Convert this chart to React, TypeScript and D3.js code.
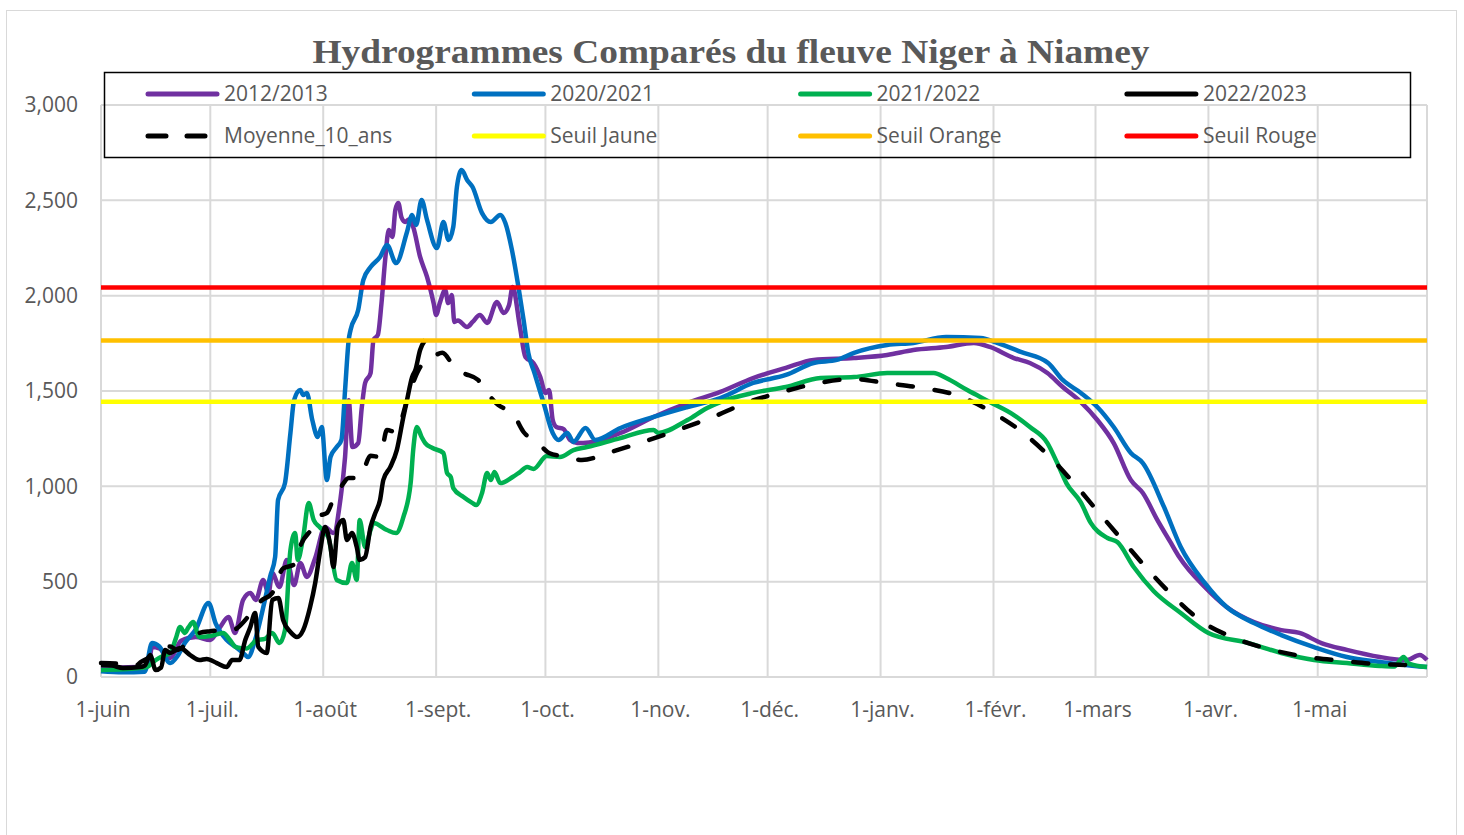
import React from 'react';
import * as d3 from 'd3';

// libellés de l'axe des abscisses (début de chaque mois)
const monthLabels = ['1-juin', '1-juil.', '1-août', '1-sept.', '1-oct.', '1-nov.', '1-déc.', '1-janv.', '1-févr.', '1-mars', '1-avr.', '1-mai'];
const yTicks = [0, 500, 1000, 1500, 2000, 2500, 3000];

// [jours depuis le 1er juin, débit m3/s]
const q2012: [number, number][] = [
  [0, 52], [5, 50], [10, 52], [13, 60], [14, 157], [16, 150], [19, 100], [22, 190], [26, 210], [30, 194],
  [32.7, 262], [35, 315], [36.8, 231], [39, 404], [41, 440], [42.5, 404], [44.5, 509], [46, 440], [47, 545],
  [49, 472], [51, 614], [53, 482], [54.7, 598], [56.5, 525], [58.8, 624], [61.5, 787], [63.8, 755], [65.7, 928],
  [67, 1154], [68, 1452], [69, 1206], [70.6, 1227], [71.6, 1416], [72.5, 1542], [74, 1594], [74.8, 1768],
  [76, 1794], [77, 1961], [78, 2187], [79, 2344], [80, 2308], [80.8, 2449], [81.6, 2486], [82.5, 2410],
  [83.5, 2386], [84.5, 2400], [85.7, 2360], [87.6, 2203], [89.5, 2098], [91.3, 1961], [92, 1899], [93, 1961],
  [94.5, 2030], [95.3, 1961], [96.3, 2004], [97, 1862], [98, 1870], [100.5, 1836], [102, 1862], [104, 1899],
  [106, 1857], [108.7, 1967], [110.5, 1909], [112, 1950], [113, 2045], [115, 1836], [116.5, 1678],
  [118.7, 1647], [120.6, 1573], [122, 1490], [123, 1505], [124, 1348], [125, 1311], [127, 1300],
  [128.8, 1243], [130.7, 1227], [134, 1230], [142.6, 1280], [151.7, 1364], [161, 1437], [170, 1495],
  [179, 1568], [188, 1621], [195.6, 1663], [206.7, 1673], [215.8, 1689], [223, 1715], [232, 1731],
  [239.6, 1752], [244, 1731], [250.6, 1673], [255, 1647], [259.8, 1594], [264, 1521], [269, 1442],
  [273.5, 1348], [278, 1227], [282.7, 1033], [286, 965], [290, 823], [293.7, 703], [296, 629], [303, 472],
  [309, 367], [316.5, 288], [324, 246], [329, 231], [335, 178], [342, 142], [351, 105], [358.5, 89],
  [362, 115], [364, 89],
];

const q2020: [number, number][] = [
  [0, 30], [6, 25], [12, 28], [14, 178], [16, 160], [19, 73], [21, 110], [23, 178], [26, 250], [29.5, 388],
  [31.5, 280], [34.5, 194], [37, 157], [39, 126], [40.4, 105], [42.3, 194], [45, 404], [46.4, 525],
  [47.8, 629], [48.6, 928], [50.5, 1017], [52, 1280], [53, 1452], [54.7, 1505], [55.5, 1479], [56.5, 1490],
  [58, 1348], [59.5, 1259], [60.6, 1311], [62, 1033], [63, 1154], [64.7, 1206], [66, 1243], [67, 1505],
  [68, 1768], [68.5, 1820], [70.6, 1925], [72, 2082], [74, 2150], [76.6, 2203], [78.5, 2266], [81, 2171],
  [84, 2334], [85.4, 2423], [86.5, 2371], [88, 2502], [89.5, 2397], [92.2, 2250], [94, 2386], [95.4, 2292],
  [96.7, 2360], [97.7, 2570], [99, 2659], [100.5, 2607], [102, 2570], [104.6, 2433], [107, 2386],
  [109.6, 2423], [111, 2381], [112.8, 2240], [114.6, 2045], [116, 1873], [117.3, 1700], [119, 1594],
  [121.5, 1437], [124, 1280], [125.6, 1243], [128, 1280], [129.7, 1233], [133, 1306], [135.7, 1243],
  [142.6, 1306], [151.7, 1364], [161, 1416], [170, 1463], [179, 1542], [188, 1584], [195.6, 1647],
  [202, 1663], [206.7, 1700], [215.8, 1741], [223, 1752], [232, 1783], [241.5, 1778], [246, 1752],
  [252.5, 1705], [260, 1647], [264, 1558], [269, 1490], [273.5, 1416], [278, 1311], [282.7, 1175],
  [286, 1122], [291.8, 892], [296.4, 682], [303, 493], [309, 367], [316.5, 283], [324, 220], [333, 157],
  [342, 105], [351, 79], [364, 52],
];

const q2021: [number, number][] = [
  [0, 37], [6, 40], [12.5, 52], [15, 89], [17, 110], [19, 126], [20.5, 200], [21.7, 262], [23, 231],
  [24, 260], [25.3, 288], [27, 210], [30, 215], [33.5, 231], [35.4, 194], [37, 157], [40, 150], [42.8, 194],
  [45, 200], [47, 231], [49, 178], [50.5, 246], [52, 666], [53.3, 755], [54, 614], [55.5, 734], [57, 912],
  [58.4, 823], [60, 787], [62.4, 734], [64.7, 509], [67.5, 493], [68.9, 598], [70.2, 509], [71, 823],
  [72.5, 682], [74, 771], [74.8, 808], [78.5, 771], [81, 755], [83, 839], [85, 1017], [85.7, 1190],
  [86.7, 1311], [88, 1259], [89, 1227], [91, 1201], [94, 1175], [95, 1070], [96, 1049], [96.7, 991],
  [99.5, 944], [102, 912], [103, 902], [104.6, 965], [106, 1070], [107, 1033], [108, 1075], [109.6, 1017],
  [113, 1049], [115, 1075], [117, 1101], [118.7, 1091], [122.4, 1159], [126, 1154], [129.7, 1190],
  [133.4, 1206], [142.6, 1253], [151.7, 1295], [153, 1280], [161, 1348], [166.4, 1411], [170, 1442],
  [179, 1490], [188, 1521], [197.5, 1568], [206.7, 1573], [215.8, 1594], [220, 1594], [228.6, 1594],
  [232, 1568], [237.8, 1505], [244, 1442], [250.6, 1374], [255, 1311], [259.8, 1227], [262.5, 1122],
  [265, 1017], [269, 915], [271.7, 808], [276.3, 729], [279, 708], [283.5, 577], [289, 450], [296.4, 336],
  [304, 231], [315, 178], [324, 126], [333, 89], [342, 73], [351, 58], [355, 55], [357.6, 105], [359, 70],
  [364, 52],
];

const q2022: [number, number][] = [
  [0, 63], [3, 60], [6, 47], [10.7, 52], [12, 60], [13.5, 115], [15, 37], [16.5, 50], [17.6, 142], [19, 126],
  [21.7, 152], [24.5, 115], [27, 89], [29, 95], [31.8, 73], [34.5, 52], [36, 89], [38, 89], [39.6, 194],
  [41, 262], [42.3, 336], [43.2, 157], [45.5, 126], [47, 404], [48.7, 414], [50, 299], [52, 236],
  [53.8, 210], [55.5, 246], [57.4, 367], [58.8, 493], [60.2, 666], [61.5, 787], [63, 682], [63.8, 577],
  [65, 787], [66.5, 823], [67.5, 719], [68.9, 755], [70.2, 682], [71, 614], [72.5, 629], [74, 787],
  [75.3, 860], [76.6, 928], [77.5, 1033], [79.4, 1101], [81.2, 1190], [83, 1364], [84, 1452], [85.4, 1573],
  [86.3, 1610], [87.6, 1715], [89, 1768],
];

const qMoyenne: [number, number][] = [
  [0, 73], [5, 70], [9.8, 63], [11, 79], [13.5, 105], [17, 152], [19, 160], [20.8, 142], [24.5, 194],
  [27, 231], [30, 240], [33.5, 246], [36, 246], [41, 330], [44, 400], [47, 440], [50, 570], [53, 590],
  [55, 700], [58, 780], [60, 845], [62, 860], [64, 944], [66, 1000], [68, 1044], [71, 1044], [74, 1160],
  [76.6, 1154], [78.5, 1295], [81, 1285], [84, 1450], [86, 1560], [88, 1636], [90, 1663], [93.7, 1700],
  [97, 1626], [99.5, 1594], [103.5, 1558], [106, 1490], [109, 1427], [113, 1384], [116, 1285], [120, 1227],
  [123, 1175], [128, 1154], [132, 1138], [140, 1180], [149.6, 1238], [159, 1300], [168, 1364], [177, 1437],
  [187, 1495], [197, 1542], [206.5, 1563], [216, 1540], [225.5, 1516], [235.5, 1474], [244.5, 1390],
  [252.5, 1290], [260.5, 1154], [267.5, 1007], [274, 860], [280.5, 715], [287.5, 561], [294, 430],
  [302, 294], [311, 205], [320.5, 147], [331, 105], [341, 84], [350, 68], [358, 63], [364, 55],
];

const seuilJaune = 1443;
const seuilOrange = 1765;
const seuilRouge = 2043;

const W = 1464;
const H = 835;
const plot = { left: 101, right: 1427, top: 105, bottom: 677 };
const textColor = '#595959';
const sans = '"Open Sans", "Noto Sans", sans-serif';

const start = new Date(2022, 5, 1);
const end = new Date(2023, 4, 31);
const dayToDate = (d: number) => new Date(start.getTime() + d * 86400000);

const x = d3.scaleTime().domain([start, end]).range([plot.left, plot.right]);
const y = d3.scaleLinear().domain([0, 3000]).range([plot.bottom, plot.top]);

const line = d3
  .line<[number, number]>()
  .x((d) => x(dayToDate(d[0])))
  .y((d) => y(d[1]))
  .curve(d3.curveMonotoneX);

type Serie = { name: string; data?: [number, number][]; level?: number; color: string; dash?: string };

const series: Serie[] = [
  { name: '2012/2013', data: q2012, color: '#7030A0' },
  { name: '2020/2021', data: q2020, color: '#0070C0' },
  { name: '2021/2022', data: q2021, color: '#00B050' },
  { name: '2022/2023', data: q2022, color: '#000000' },
  { name: 'Moyenne_10_ans', data: qMoyenne, color: '#000000', dash: '15 22' },
  { name: 'Seuil Jaune', level: seuilJaune, color: '#FFFF00' },
  { name: 'Seuil Orange', level: seuilOrange, color: '#FFC000' },
  { name: 'Seuil Rouge', level: seuilRouge, color: '#FF0000' },
];

export default function App() {
  const months = d3.timeMonth.range(start, end);
  const fmt = d3.format(',');

  return (
    <svg width={W} height={H} style={{ position: 'absolute', left: 0, top: 0, background: '#fff' }}>
      <rect x={6.5} y={10.5} width={1450} height={840} fill="#fff" stroke="#d9d9d9" strokeWidth={1} />

      <text
        x={731}
        y={63}
        textAnchor="middle"
        fontFamily='"Liberation Serif", "DejaVu Serif", serif'
        fontWeight="bold"
        fontSize={34}
        fill={textColor}
        textLength={837}
        lengthAdjust="spacingAndGlyphs"
      >
        Hydrogrammes Comparés du fleuve Niger à Niamey
      </text>

      {/* quadrillage */}
      <g stroke="#d9d9d9" strokeWidth={2}>
        {yTicks.map((t) => (
          <line key={'h' + t} x1={plot.left} x2={plot.right} y1={y(t)} y2={y(t)} />
        ))}
        {[...months, end].map((m, i) => (
          <line key={'v' + i} x1={x(m)} x2={x(m)} y1={plot.top} y2={plot.bottom} />
        ))}
      </g>

      <g fontFamily={sans} fontSize={21} fill={textColor}>
        {yTicks.map((t) => (
          <text key={'yl' + t} x={78} y={y(t)} dy="0.35em" textAnchor="end">
            {fmt(t)}
          </text>
        ))}
        {months.map((m, i) => (
          <text key={'xl' + i} x={x(m) + 2} y={717} textAnchor="middle">
            {monthLabels[i]}
          </text>
        ))}
      </g>

      {/* séries */}
      <g fill="none" strokeWidth={4.5} strokeLinejoin="round">
        {series.map((s) =>
          s.data ? (
            <path
              key={s.name}
              d={line(s.data) || ''}
              stroke={s.color}
              strokeDasharray={s.dash}
              strokeLinecap={s.dash ? 'round' : 'butt'}
            />
          ) : (
            <line
              key={s.name}
              x1={plot.left}
              x2={plot.right}
              y1={y(s.level as number)}
              y2={y(s.level as number)}
              stroke={s.color}
            />
          )
        )}
      </g>

      {/* légende */}
      <rect x={104.5} y={72.5} width={1306} height={85} fill="none" stroke="#000" strokeWidth={1.5} />
      <g fontFamily={sans} fontSize={21} fill={textColor}>
        {series.map((s, i) => {
          const col = i % 4;
          const row = Math.floor(i / 4);
          const lx = 148 + col * 326.3;
          const ly = 94 + row * 42;
          return (
            <g key={'lg' + s.name}>
              <line
                x1={lx}
                x2={s.dash ? lx + 57 : lx + 69}
                y1={ly}
                y2={ly}
                stroke={s.color}
                strokeWidth={5}
                strokeLinecap="round"
                strokeDasharray={s.dash ? '18 21' : undefined}
              />
              <text x={lx + 76} y={ly} dy="0.35em">
                {s.name}
              </text>
            </g>
          );
        })}
      </g>
    </svg>
  );
}
